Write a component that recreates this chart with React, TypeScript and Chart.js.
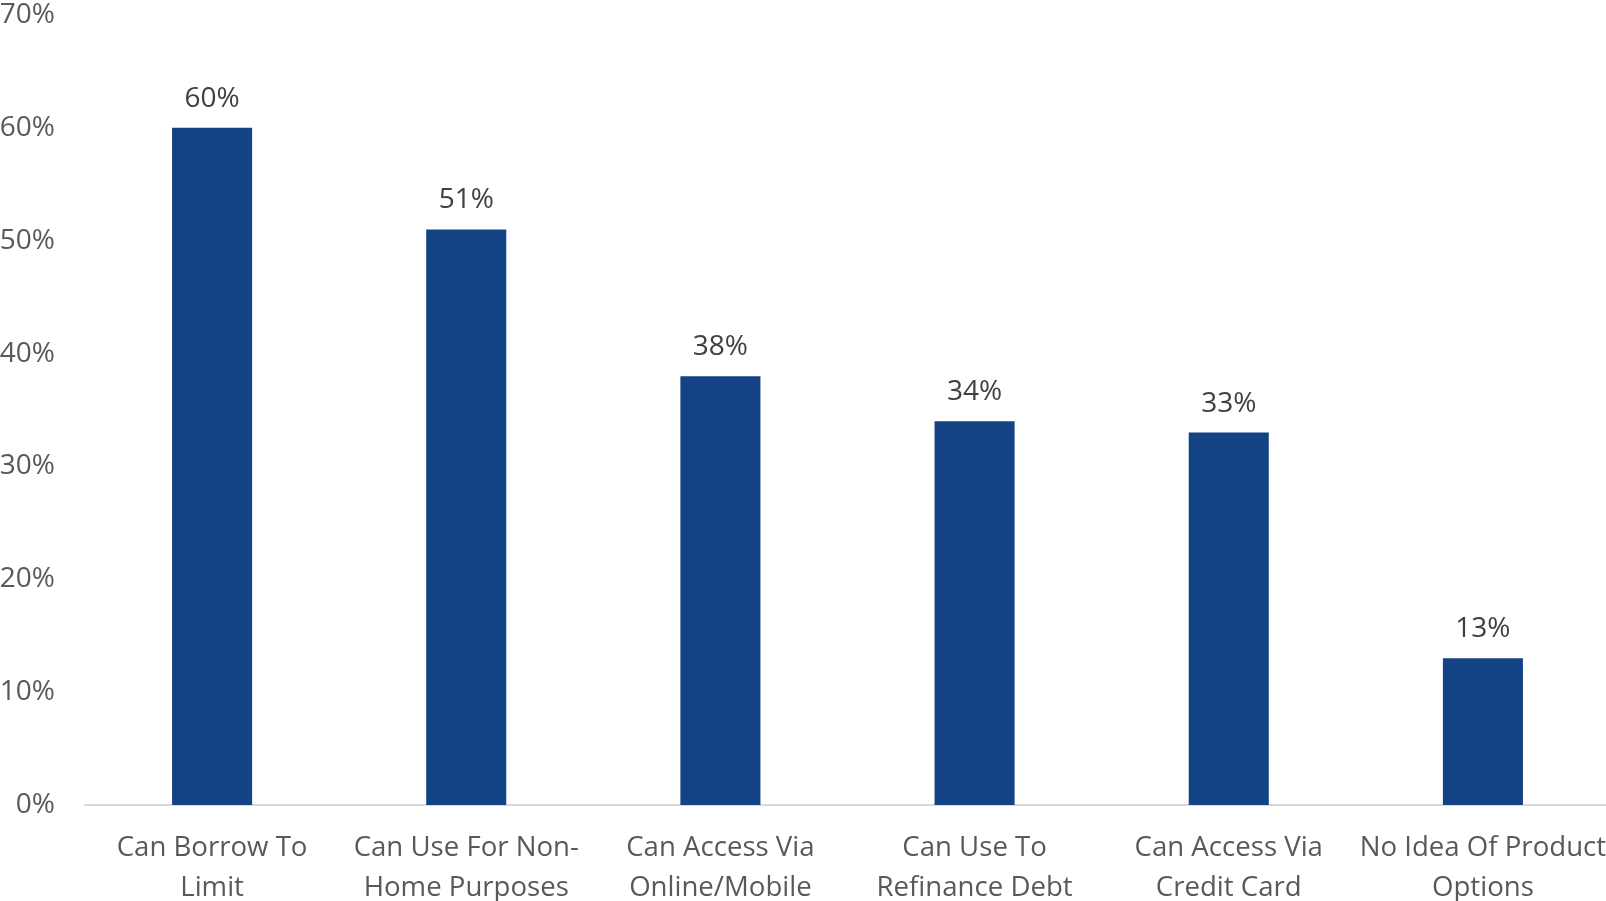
import React, { useEffect, useRef } from "react";
import { Chart, registerables } from "chart.js";

Chart.register(...registerables);

const categories: string[][] = [
  ["Can Borrow To", "Limit"],
  ["Can Use For Non-", "Home Purposes"],
  ["Can Access Via", "Online/Mobile"],
  ["Can Use To", "Refinance Debt"],
  ["Can Access Via", "Credit Card"],
  ["No Idea Of Product", "Options"],
];
const values: number[] = [60, 51, 38, 34, 33, 13];
const yTicks: number[] = [0, 10, 20, 30, 40, 50, 60, 70];

const FONT = "'Open Sans', sans-serif";

const dataLabels = {
  id: "dataLabels",
  afterDatasetsDraw(chart: any) {
    const ctx = chart.ctx;
    const meta = chart.getDatasetMeta(0);
    ctx.save();
    ctx.font = `28px ${FONT}`;
    ctx.fillStyle = "#404040";
    ctx.textAlign = "center";
    ctx.textBaseline = "middle";
    meta.data.forEach((bar: any, i: number) => {
      ctx.fillText(`${values[i]}%`, bar.x, bar.y - 29);
    });
    ctx.restore();
  },
};

export default function App() {
  const ref = useRef<HTMLCanvasElement>(null);
  useEffect(() => {
    document.body.style.margin = "0";
    document.body.style.overflow = "hidden";
    const chart = new Chart(ref.current!, {
      type: "bar",
      data: {
        labels: categories,
        datasets: [
          {
            data: values,
            backgroundColor: "#144385",
            barPercentage: 0.315,
            categoryPercentage: 1,
          },
        ],
      },
      options: {
        animation: false,
        responsive: false,
        maintainAspectRatio: false,
        layout: { padding: { top: 15, right: 0, left: 0, bottom: 0 } },
        plugins: { legend: { display: false }, tooltip: { enabled: false } },
        scales: {
          x: {
            grid: { display: false, drawTicks: false },
            border: { display: true, color: "#d9d9d9", width: 2 },
            ticks: {
              color: "#595959",
              font: { family: FONT, size: 27.6, lineHeight: 1.42 },
              padding: 24,
              maxRotation: 0,
              autoSkip: false,
            },
            afterFit(scale: any) {
              scale.height = 96;
              scale.paddingLeft = 0;
              scale.paddingRight = 0;
            },
          },
          y: {
            min: 0,
            max: 70,
            grid: { display: false, drawTicks: false },
            border: { display: false },
            afterBuildTicks(scale: any) {
              scale.ticks = yTicks.map((v) => ({ value: v }));
            },
            ticks: {
              color: "#595959",
              font: { family: FONT, size: 28 },
              padding: 30,
              callback: (v: any) => `${v}%`,
            },
            afterFit(scale: any) {
              scale.width = 85;
              scale.paddingTop = 0;
              scale.paddingBottom = 0;
            },
          },
        },
      },
      plugins: [dataLabels],
    });
    return () => chart.destroy();
  }, []);
  return (
    <div style={{ width: 1606, height: 901, overflow: "hidden" }}>
      <canvas ref={ref} width={1610} height={901} style={{ display: "block" }} />
    </div>
  );
}
